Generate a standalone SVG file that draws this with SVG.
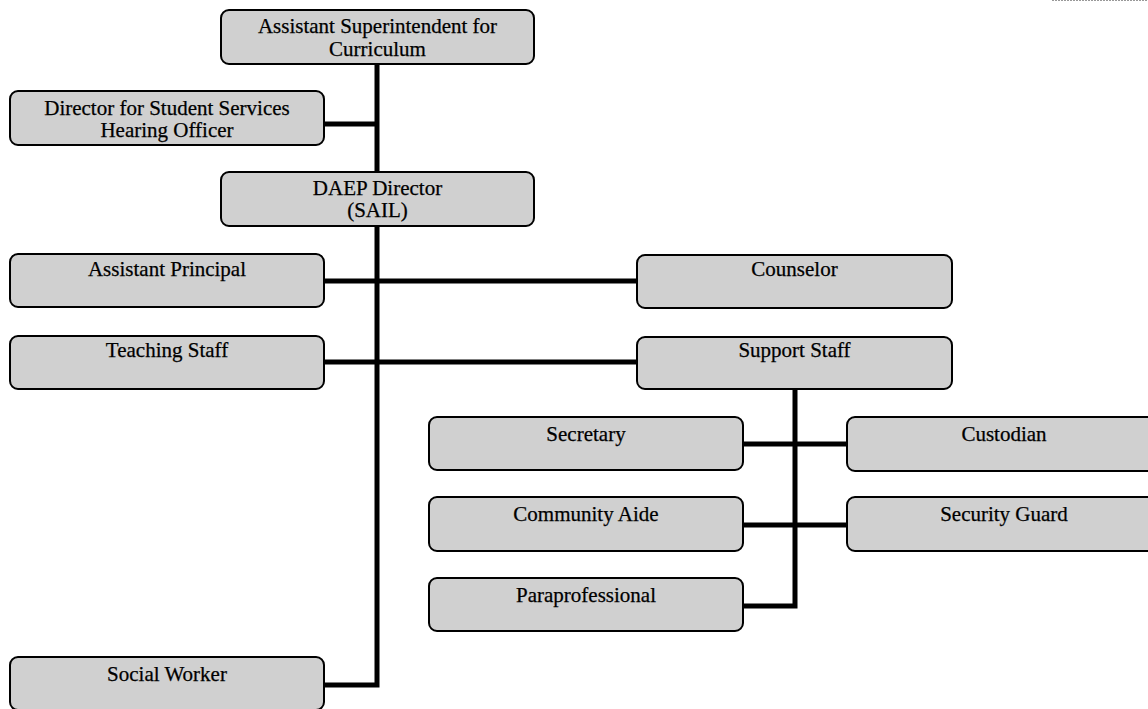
<svg xmlns="http://www.w3.org/2000/svg" width="1148" height="709" viewBox="0 0 1148 709">
  <style>
    .box { fill: #d0d0d0; stroke: #000; stroke-width: 2; }
    .lbl { font-family: "Liberation Serif", "Times New Roman", serif; font-size: 21px; fill: #000; stroke: #000; stroke-width: 0.25; text-anchor: middle; }
    .conn { fill: none; stroke: #000; stroke-width: 5; stroke-linejoin: miter; stroke-linecap: butt; }
  </style>
  <rect width="1148" height="709" fill="#fff"/>
  <line x1="1052" y1="0.5" x2="1148" y2="0.5" stroke="#999" stroke-width="1" stroke-dasharray="2 1"/>

  <g id="connectors">
    <path class="conn" d="M377 64 V685 H324"/>
    <path class="conn" d="M324 124 H377"/>
    <path class="conn" d="M324 281 H637"/>
    <path class="conn" d="M324 362 H637"/>
    <path class="conn" d="M795 389 V606 H743"/>
    <path class="conn" d="M743 444 H847"/>
    <path class="conn" d="M743 525 H847"/>
  </g>

  <g id="asst-superintendent">
    <rect class="box" x="221" y="10" width="313" height="54" rx="8"/>
    <text class="lbl" x="377.5" y="33">Assistant Superintendent for</text>
    <text class="lbl" x="377.5" y="56">Curriculum</text>
  </g>
  <g id="director-student-services">
    <rect class="box" x="10" y="91" width="314" height="54" rx="8"/>
    <text class="lbl" x="167" y="115">Director for Student Services</text>
    <text class="lbl" x="167" y="137">Hearing Officer</text>
  </g>
  <g id="daep-director">
    <rect class="box" x="221" y="172" width="313" height="54" rx="8"/>
    <text class="lbl" x="377.5" y="195">DAEP Director</text>
    <text class="lbl" x="377.5" y="217">(SAIL)</text>
  </g>
  <g id="assistant-principal">
    <rect class="box" x="10" y="254" width="314" height="53" rx="8"/>
    <text class="lbl" x="167" y="276">Assistant Principal</text>
  </g>
  <g id="counselor">
    <rect class="box" x="637" y="255" width="315" height="53" rx="8"/>
    <text class="lbl" x="794.5" y="276">Counselor</text>
  </g>
  <g id="teaching-staff">
    <rect class="box" x="10" y="336" width="314" height="53" rx="8"/>
    <text class="lbl" x="167" y="357">Teaching Staff</text>
  </g>
  <g id="support-staff">
    <rect class="box" x="637" y="337" width="315" height="52" rx="8"/>
    <text class="lbl" x="794.5" y="357">Support Staff</text>
  </g>
  <g id="secretary">
    <rect class="box" x="429" y="417" width="314" height="53" rx="8"/>
    <text class="lbl" x="586" y="441">Secretary</text>
  </g>
  <g id="custodian">
    <rect class="box" x="847" y="417" width="314" height="54" rx="8"/>
    <text class="lbl" x="1004" y="441">Custodian</text>
  </g>
  <g id="community-aide">
    <rect class="box" x="429" y="497" width="314" height="54" rx="8"/>
    <text class="lbl" x="586" y="521">Community Aide</text>
  </g>
  <g id="security-guard">
    <rect class="box" x="847" y="497" width="314" height="54" rx="8"/>
    <text class="lbl" x="1004" y="521">Security Guard</text>
  </g>
  <g id="paraprofessional">
    <rect class="box" x="429" y="578" width="314" height="53" rx="8"/>
    <text class="lbl" x="586" y="602">Paraprofessional</text>
  </g>
  <g id="social-worker">
    <rect class="box" x="10" y="657" width="314" height="53" rx="8"/>
    <text class="lbl" x="167" y="681">Social Worker</text>
  </g>
</svg>
